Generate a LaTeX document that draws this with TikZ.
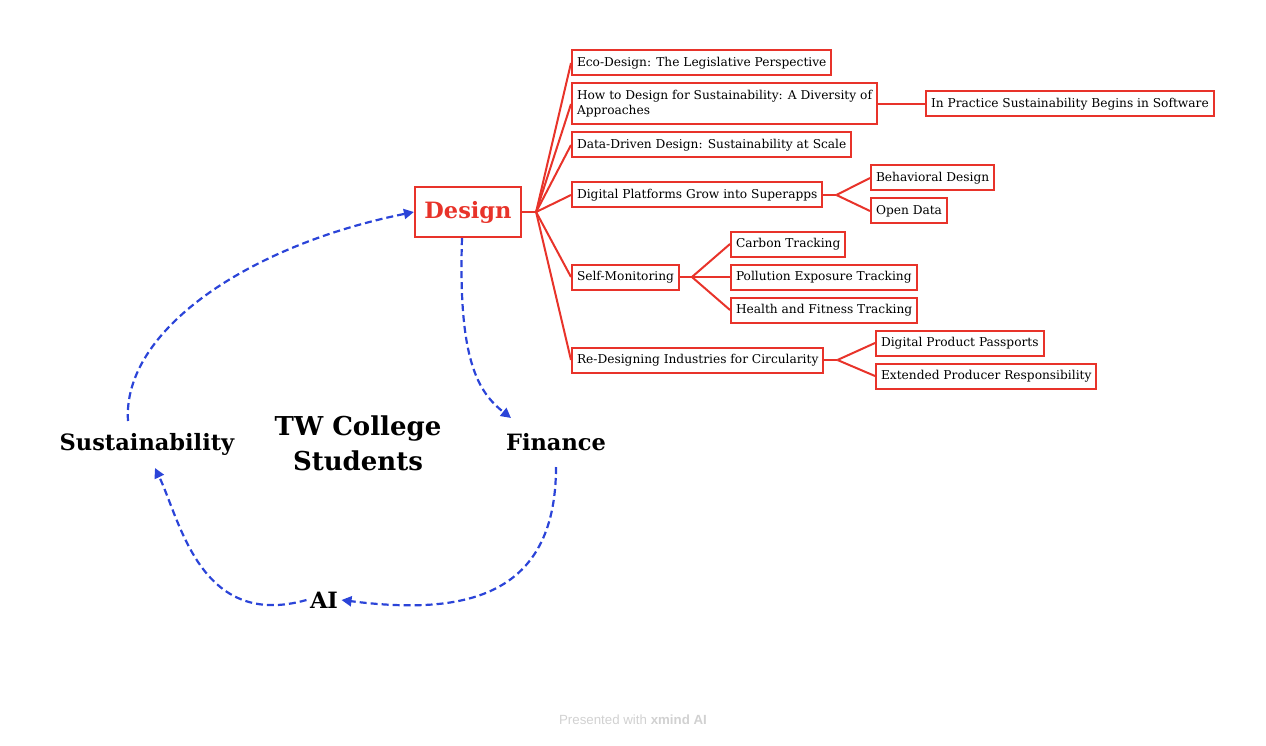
\documentclass[tikz,border=0pt]{standalone}
\usepackage{fontspec}
\setmainfont{DejaVu Serif}
\newfontfamily\footfont{Liberation Sans}
\usetikzlibrary{arrows.meta}

\definecolor{mapred}{HTML}{E8332A}
\definecolor{loopblue}{HTML}{2B44D8}

\tikzset{
  topicbox/.style={draw=mapred, line width=2pt, fill=white, anchor=west,
    inner xsep=5pt, inner ysep=3pt, minimum height=25pt,
    font=\fontsize{12.2}{15}\selectfont, align=left},
  branch/.style={draw=mapred, line width=2pt},
  loopword/.style={font=\fontsize{22.5}{24}\selectfont\bfseries, text=black},
  looparrow/.style={draw=loopblue, line width=2.2pt, dash pattern=on 7pt off 4pt,
    -{Triangle[length=10pt,width=10pt]}},
}

\begin{document}
\begin{tikzpicture}[x=1pt, y=-1pt]
    \useasboundingbox (0,0) rectangle (1266,746);

    % central topic
    \node[draw=mapred, line width=2.2pt, fill=white, minimum width=106pt,
      minimum height=50pt, text=mapred,
      font=\fontsize{22.5}{24}\selectfont\bfseries] (design) at (468,212) {Design};

    % first level
    \node[topicbox] (eco) at (571,63) {Eco-Design: The Legislative Perspective};
    \node[topicbox, minimum height=41pt] (how) at (571,104) {How to Design for Sustainability: A Diversity of\\Approaches};
    \node[topicbox] (data) at (571,145) {Data-Driven Design: Sustainability at Scale};
    \node[topicbox] (plat) at (571,195) {Digital Platforms Grow into Superapps};
    \node[topicbox] (self) at (571,277) {Self-Monitoring};
    \node[topicbox] (redes) at (571,360) {Re-Designing Industries for Circularity};

    % second level
    \node[topicbox] (soft) at (925,104) {In Practice Sustainability Begins in Software};
    \node[topicbox] (behav) at (870,178) {Behavioral Design};
    \node[topicbox] (open) at (870,211) {Open Data};
    \node[topicbox] (carbon) at (730,244) {Carbon Tracking};
    \node[topicbox] (pollu) at (730,277) {Pollution Exposure Tracking};
    \node[topicbox] (health) at (730,310) {Health and Fitness Tracking};
    \node[topicbox] (pass) at (875,343) {Digital Product Passports};
    \node[topicbox] (epr) at (875,376) {Extended Producer Responsibility};

    % branches
    \draw[branch] (design.east) -- ++(14,0) coordinate (dfork);
    \foreach \n in {eco, how, data, plat, self, redes}
    \draw[branch] (dfork) -- (\n.west);

    \draw[branch] (how.east) -- (soft.west);

    \draw[branch] (plat.east) -- ++(13,0) coordinate (pfork);
    \foreach \n in {behav, open}
    \draw[branch] (pfork) -- (\n.west);

    \draw[branch] (self.east) -- ++(12,0) coordinate (sfork);
    \foreach \n in {carbon, pollu, health}
    \draw[branch] (sfork) -- (\n.west);

    \draw[branch] (redes.east) -- ++(13,0) coordinate (rfork);
    \foreach \n in {pass, epr}
    \draw[branch] (rfork) -- (\n.west);

    % the loop
    \node[loopword] (sust) at (147,444) {Sustainability};
    \node[loopword] (fin) at (556,442) {Finance};
    \node[loopword] (ai) at (324,600) {AI};
    \node[font=\fontsize{26}{35}\selectfont\bfseries, align=center] (tw) at (358,443)
      {TW College\\Students};

    \draw[looparrow] (128,421) .. controls (122,330) and (250,245) .. (design.west);
    \draw[looparrow] (design.south -| 462,0) .. controls (458,360) and (478,392) .. (511,418);
    \draw[looparrow] (556,467) .. controls (556,600) and (460,615) .. (ai.east);
    \draw[looparrow] (ai.west) .. controls (200,630) and (180,520) .. (155,468);

    \node[font=\footfont\fontsize{13.3}{15}\selectfont, text=black!18] (foot) at (633,720)
      {Presented with \textbf{xmind AI}};
\end{tikzpicture}
\end{document}
